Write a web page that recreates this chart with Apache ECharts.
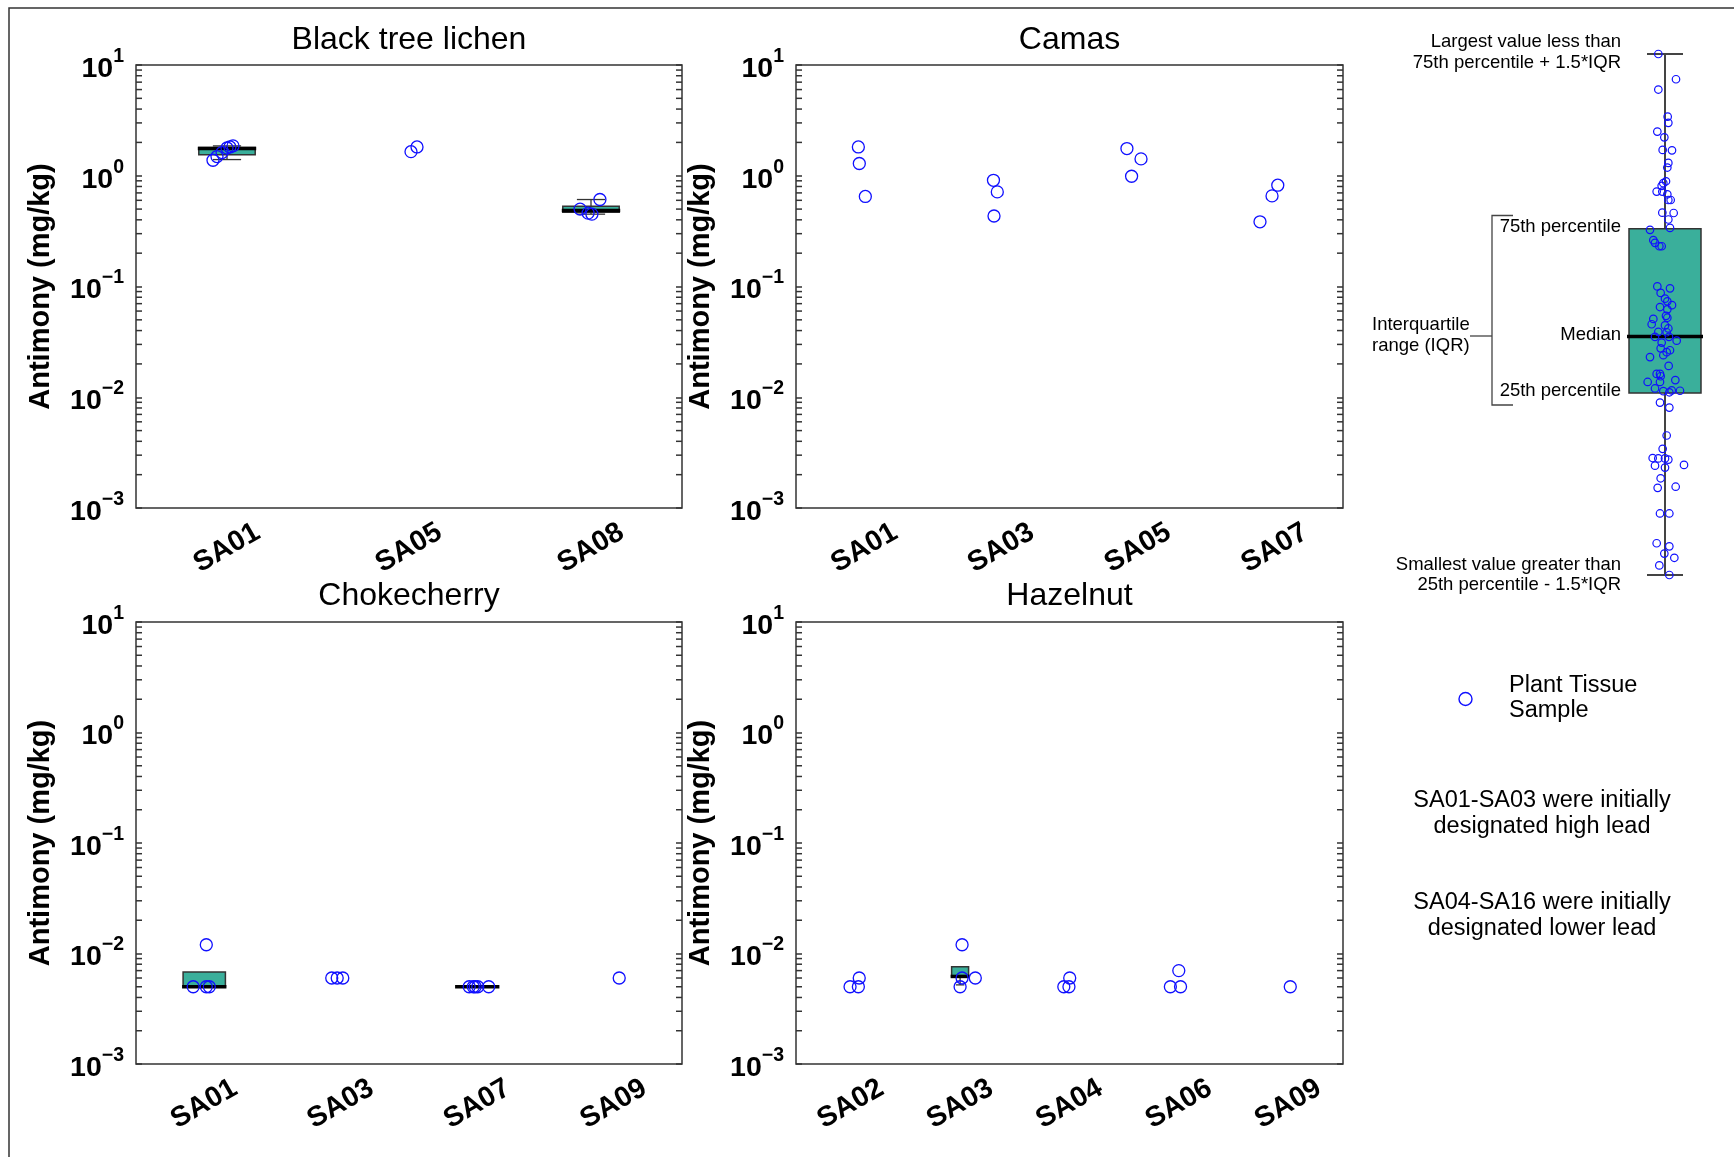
<!DOCTYPE html>
<html><head><meta charset="utf-8">
<script src="https://cdn.jsdelivr.net/npm/echarts@6/dist/echarts.min.js"></script>
<style>html,body{margin:0;padding:0;background:#fff;}#c{width:1734px;height:1157px;}</style>
</head><body><div id="c"></div>
<script>
const FONT = '"Liberation Sans", Arial, Helvetica, sans-serif';

// ---------- data ----------
const panelTitles = ['Black tree lichen', 'Camas', 'Chokecherry', 'Hazelnut'];
const yAxisName = 'Antimony (mg/kg)';
const yMin = 0.001, yMax = 10;
const minorMultipliers = [2, 3, 4, 5, 6, 7, 8, 9];
const decadeStarts = [0.001, 0.01, 0.1, 1];

// Black tree lichen
const lichenCats = ['SA01', 'SA05', 'SA08'];
const lichenPtCat = [0, 0, 0, 0, 0, 0, 1, 1, 2, 2, 2, 2];
const lichenPtVal = [1.38, 1.49, 1.62, 1.78, 1.82, 1.86, 1.65, 1.82, 0.50, 0.46, 0.45, 0.61];
const lichenPtJit = [-0.077, -0.055, -0.027, 0, 0.016, 0.033, 0.011, 0.044, -0.060, -0.016, 0.005, 0.049];
// [category, low whisker, q1, median, q3, high whisker]
const lichenBoxes = [[0, 1.40, 1.55, 1.76, 1.80, 1.86], [2, 0.45, 0.468, 0.485, 0.53, 0.61]];

// Camas
const camasCats = ['SA01', 'SA03', 'SA05', 'SA07'];
const camasPtCat = [0, 0, 0, 1, 1, 1, 2, 2, 2, 3, 3, 3];
const camasPtVal = [1.82, 1.29, 0.65, 0.91, 0.715, 0.433, 1.76, 1.42, 0.99, 0.384, 0.658, 0.822];
const camasPtJit = [-0.044, -0.037, 0.007, -0.056, -0.028, -0.052, -0.080, 0.023, -0.046, -0.107, -0.019, 0.023];
const camasBoxes = [];

// Chokecherry
const chokeCats = ['SA01', 'SA03', 'SA07', 'SA09'];
const chokePtCat = [0, 0, 0, 0, 1, 1, 1, 2, 2, 2, 2, 2, 3];
const chokePtVal = [0.005, 0.005, 0.005, 0.012, 0.006, 0.006, 0.006, 0.005, 0.005, 0.005, 0.005, 0.005, 0.006];
const chokePtJit = [-0.081, 0.015, 0.037, 0.015, -0.066, -0.026, 0.015, -0.059, -0.029, -0.015, 0.004, 0.084, 0.040];
const chokeBoxes = [[0, 0.005, 0.005, 0.005, 0.0068, 0.0068], [2, 0.005, 0.005, 0.005, 0.005, 0.005]];

// Hazelnut
const hazelCats = ['SA02', 'SA03', 'SA04', 'SA06', 'SA09'];
const hazelPtCat = [0, 0, 0, 1, 1, 1, 1, 2, 2, 2, 3, 3, 3, 4];
const hazelPtVal = [0.005, 0.005, 0.006, 0.005, 0.006, 0.006, 0.012, 0.005, 0.005, 0.006, 0.005, 0.005, 0.007, 0.005];
const hazelPtJit = [-0.006, 0.070, 0.078, 0, 0.018, 0.139, 0.018, -0.052, -0.005, 0.002, -0.078, 0.015, -0.001, 0.018];
const hazelBoxes = [[1, 0.0052, 0.0062, 0.0062, 0.0076, 0.0076]];

// Schematic key (arbitrary schematic units)
const keyBox = [[0, 0, 476, 624, 906, 1363]];
const keyPtX = [-20, 33, -20, 8, 10, -23, -2, -7, 21, 10, 7, 3, -5, -10, -25, -8, 7, 10, 17, -8, 26, 10, 15, -45, -35, -30, -17, -10,
  -23, 15, -13, 0, 7, 21, -15, 7, 3, 7, -35, -40, 0, 10, -20, 5, -30, 12, 35, -10, -13, 15, 5, -5, -45, 11, -25, -15, -13, -52, -15, 31,
  -30, -5, 20, 45, 13, -15, 13, 5, -7, -37, -20, 0, 10, -30, 0, 57, -13, -22, 32, -15, 13, -25, 13, -2, 28, -17, 13];
const keyPtY = [1363, 1297, 1270, 1199, 1183, 1160, 1145, 1112, 1111, 1078, 1066, 1030, 1025, 1018, 1003, 1003, 996, 981, 981, 948, 947, 930, 908, 903, 876, 869, 860, 860,
  755, 750, 738, 723, 716, 706, 701, 695, 678, 673, 670, 656, 653, 645, 636, 635, 623, 623, 613, 608, 593, 588, 583, 575, 570, 547, 526, 526, 520, 505, 505, 510,
  488, 481, 483, 482, 478, 451, 438, 365, 330, 306, 305, 305, 302, 286, 281, 288, 253, 228, 231, 161, 161, 83, 75, 56, 45, 25, 0];

// ---------- styling ----------
const TEAL = '#3aaf9b';
const BLUE = '#1010ff';
const FRAME = '#333333';

const panels = [
  { cats: lichenCats, pc: lichenPtCat, pv: lichenPtVal, pj: lichenPtJit, boxes: lichenBoxes, frac: 0.31, grid: { left: 136, top: 65, width: 546, height: 443 } },
  { cats: camasCats, pc: camasPtCat, pv: camasPtVal, pj: camasPtJit, boxes: camasBoxes, frac: 0.31, grid: { left: 796, top: 65, width: 547, height: 443 } },
  { cats: chokeCats, pc: chokePtCat, pv: chokePtVal, pj: chokePtJit, boxes: chokeBoxes, frac: 0.31, grid: { left: 136, top: 622, width: 546, height: 442 } },
  { cats: hazelCats, pc: hazelPtCat, pv: hazelPtVal, pj: hazelPtJit, boxes: hazelBoxes, frac: 0.155, grid: { left: 796, top: 622, width: 547, height: 442 } }
];

function boxRender(frac, capFrac, whiskerColor, whiskerWidth, medExtra) {
  return function (params, api) {
    const c = api.value(0);
    const pLow = api.coord([c, api.value(1)]);
    const pQ1 = api.coord([c, api.value(2)]);
    const pMed = api.coord([c, api.value(3)]);
    const pQ3 = api.coord([c, api.value(4)]);
    const pHigh = api.coord([c, api.value(5)]);
    const band = api.size([1, 0], [c, 1])[0];
    const w = band * frac;
    const x = pMed[0];
    const capW = w * capFrac;
    const ws = { stroke: whiskerColor, lineWidth: whiskerWidth };
    const ch = [];
    if (pQ3[1] - pHigh[1] > 0.5) {
      ch.push({ type: 'line', shape: { x1: x, y1: pQ3[1], x2: x, y2: pHigh[1] }, style: ws });
      ch.push({ type: 'line', shape: { x1: x - capW / 2, y1: pHigh[1], x2: x + capW / 2, y2: pHigh[1] }, style: ws });
    }
    if (pLow[1] - pQ1[1] > 0.5) {
      ch.push({ type: 'line', shape: { x1: x, y1: pQ1[1], x2: x, y2: pLow[1] }, style: ws });
      ch.push({ type: 'line', shape: { x1: x - capW / 2, y1: pLow[1], x2: x + capW / 2, y2: pLow[1] }, style: ws });
    }
    if (pQ1[1] - pQ3[1] > 0.5) {
      ch.push({ type: 'rect', shape: { x: x - w / 2, y: pQ3[1], width: w, height: pQ1[1] - pQ3[1] },
        style: { fill: TEAL, stroke: FRAME, lineWidth: 1.5 } });
    }
    ch.push({ type: 'line', shape: { x1: x - w / 2 - medExtra, y1: pMed[1], x2: x + w / 2 + medExtra, y2: pMed[1] },
      style: { stroke: '#000', lineWidth: 3.5 } });
    return { type: 'group', children: ch };
  };
}

function minorTickRender(params, api) {
  const cs = params.coordSys;
  const y = api.coord([0, api.value(1)])[1];
  const st = { stroke: FRAME, lineWidth: 1.5 };
  return { type: 'group', children: [
    { type: 'line', shape: { x1: cs.x, y1: y, x2: cs.x + 6, y2: y }, style: st },
    { type: 'line', shape: { x1: cs.x + cs.width, y1: y, x2: cs.x + cs.width - 6, y2: y }, style: st }
  ] };
}

const minorVals = [];
decadeStarts.forEach(d => minorMultipliers.forEach(m => minorVals.push([0, m * d])));

function expLabel(v) {
  const e = Math.round(Math.log10(v));
  return '{b|10}{s|' + (e < 0 ? '\u2212' + (-e) : String(e)) + '}';
}

const grids = [], xAxes = [], yAxes = [], series = [];
panels.forEach((p, i) => {
  grids.push(Object.assign({ show: true, borderColor: FRAME, borderWidth: 1.5, backgroundColor: 'transparent' }, p.grid));
  xAxes.push({
    type: 'category', gridIndex: i, data: p.cats, boundaryGap: true,
    axisLine: { show: false }, axisTick: { show: false }, splitLine: { show: false },
    axisLabel: { interval: 0, rotate: 30, align: 'center', verticalAlign: 'middle', margin: 40,
      fontSize: 28.5, fontWeight: 'bold', fontFamily: FONT, color: '#000' }
  });
  xAxes.push({ type: 'value', gridIndex: i, min: 0, max: p.cats.length, show: false });
  const yBase = {
    type: 'log', logBase: 10, gridIndex: i, min: yMin, max: yMax, splitNumber: 4,
    axisLine: { show: false }, splitLine: { show: false }, minorTick: { show: false },
    axisTick: { show: true, inside: true, length: 6, lineStyle: { color: FRAME, width: 1.5 } }
  };
  yAxes.push(Object.assign({}, yBase, {
    position: 'left',
    name: yAxisName, nameLocation: 'middle', nameGap: 81, nameRotate: 90,
    nameTextStyle: { fontSize: 29, fontWeight: 'bold', fontFamily: FONT, color: '#000' },
    axisLabel: { show: true, margin: 12, formatter: expLabel, padding: [8, 0, 0, 0],
      rich: {
        b: { fontSize: 28.5, fontWeight: 'bold', fontFamily: FONT, color: '#000', lineHeight: 45, verticalAlign: 'middle' },
        s: { fontSize: 19.5, fontWeight: 'bold', fontFamily: FONT, color: '#000', lineHeight: 19, verticalAlign: 'top' }
      } }
  }));
  yAxes.push(Object.assign({}, yBase, { position: 'right', axisLabel: { show: false } }));
  if (p.boxes.length) {
    series.push({ type: 'custom', xAxisIndex: 2 * i, yAxisIndex: 2 * i, data: p.boxes, silent: true, z: 2,
      encode: { x: 0, y: [1, 2, 3, 4, 5] }, renderItem: boxRender(p.frac, 0.5, FRAME, 1.3, 1) });
  }
  series.push({ type: 'scatter', xAxisIndex: 2 * i + 1, yAxisIndex: 2 * i, z: 3, silent: true,
    data: p.pv.map((v, k) => [p.pc[k] + 0.5 + p.pj[k], v]),
    symbol: 'circle', symbolSize: 12,
    itemStyle: { color: 'rgba(0,0,0,0)', borderColor: BLUE, borderWidth: 1.3, opacity: 1 } });
  series.push({ type: 'custom', xAxisIndex: 2 * i, yAxisIndex: 2 * i, data: minorVals, silent: true, z: 4,
    encode: { x: 0, y: 1 }, renderItem: minorTickRender });
});

// schematic key grid
grids.push({ left: 1629, top: 54, width: 72, height: 521, show: false });
xAxes.push({ type: 'category', gridIndex: 4, data: ['key'], show: false });
xAxes.push({ type: 'value', gridIndex: 4, min: -108, max: 108, show: false });
yAxes.push({ type: 'value', gridIndex: 4, min: 0, max: 1363, show: false });
series.push({ type: 'custom', xAxisIndex: 8, yAxisIndex: 8, data: keyBox, silent: true, z: 2,
  encode: { x: 0, y: [1, 2, 3, 4, 5] }, renderItem: boxRender(1.0, 0.5, '#444', 2, 2) });
series.push({ type: 'scatter', xAxisIndex: 9, yAxisIndex: 8, z: 3, silent: true,
  data: keyPtX.map((x, k) => [x, keyPtY[k]]), symbol: 'circle', symbolSize: 7.5,
  itemStyle: { color: 'rgba(0,0,0,0)', borderColor: BLUE, borderWidth: 1.2, opacity: 1 } });

function txt(text, x, y, size, align) {
  return { type: 'text', x: x, y: y, silent: true, z: 10,
    style: { text: text, fill: '#000', font: 'normal ' + size + 'px ' + FONT,
      align: align, verticalAlign: 'middle', textAlign: align, textVerticalAlign: 'middle' } };
}

const titlePos = [[409, 40.5], [1069.5, 40.5], [409, 596.5], [1069.5, 596.5]];
const graphics = [
  { type: 'rect', silent: true, shape: { x: 9, y: 8, width: 2000, height: 2000 }, style: { fill: 'none', stroke: FRAME, lineWidth: 1.5 } }
];
panelTitles.forEach((t, i) => graphics.push(txt(t, titlePos[i][0], titlePos[i][1], 32, 'center')));
const kS = 18.5;
graphics.push(txt('Largest value less than', 1621, 42, kS, 'right'));
graphics.push(txt('75th percentile + 1.5*IQR', 1621, 62.5, kS, 'right'));
graphics.push(txt('75th percentile', 1621, 227, kS, 'right'));
graphics.push(txt('Median', 1621, 335, kS, 'right'));
graphics.push(txt('25th percentile', 1621, 391, kS, 'right'));
graphics.push(txt('Smallest value greater than', 1621, 565, kS, 'right'));
graphics.push(txt('25th percentile - 1.5*IQR', 1621, 584.5, kS, 'right'));
graphics.push(txt('Interquartile', 1372, 325, kS, 'left'));
graphics.push(txt('range (IQR)', 1372, 345.5, kS, 'left'));
graphics.push({ type: 'polyline', silent: true, shape: { points: [[1513, 215.5], [1492, 215.5], [1492, 405], [1513, 405]] },
  style: { fill: 'none', stroke: '#444', lineWidth: 1.3 } });
graphics.push({ type: 'line', silent: true, shape: { x1: 1470, y1: 336, x2: 1492, y2: 336 }, style: { stroke: '#444', lineWidth: 1.3 } });
graphics.push({ type: 'circle', silent: true, shape: { cx: 1465.5, cy: 699, r: 6.5 }, style: { fill: 'none', stroke: BLUE, lineWidth: 1.4 } });
const lS = 23.5;
graphics.push(txt('Plant Tissue', 1509, 686, lS, 'left'));
graphics.push(txt('Sample', 1509, 711, lS, 'left'));
graphics.push(txt('SA01-SA03 were initially', 1542, 801, lS, 'center'));
graphics.push(txt('designated high lead', 1542, 827, lS, 'center'));
graphics.push(txt('SA04-SA16 were initially', 1542, 903, lS, 'center'));
graphics.push(txt('designated lower lead', 1542, 929, lS, 'center'));

const chart = echarts.init(document.getElementById('c'), null, { renderer: 'canvas', width: 1734, height: 1157 });
chart.setOption({
  animation: false,
  backgroundColor: '#ffffff',
  textStyle: { fontFamily: FONT },
  grid: grids, xAxis: xAxes, yAxis: yAxes, series: series,
  graphic: { elements: graphics }
});
</script></body></html>
